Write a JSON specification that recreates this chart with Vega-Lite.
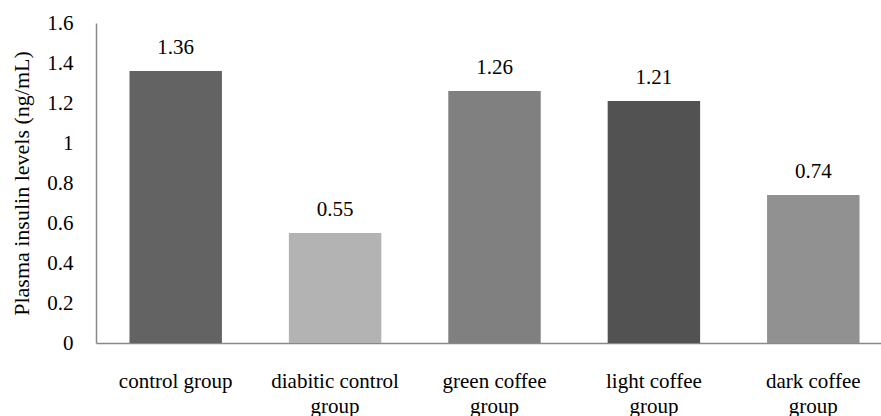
{
  "$schema": "https://vega.github.io/schema/vega-lite/v6.json",
  "autosize": {"type": "none"},
  "padding": {"left": 96, "top": 23, "right": 0, "bottom": 73},
  "width": 797,
  "height": 320,
  "background": "white",
  "data": {"values": [
    {"group": "control group", "insulin": 1.36, "shade": "a"},
    {"group": "diabitic control group", "insulin": 0.55, "shade": "b"},
    {"group": "green coffee group", "insulin": 1.26, "shade": "c"},
    {"group": "light coffee group", "insulin": 1.21, "shade": "d"},
    {"group": "dark coffee group", "insulin": 0.74, "shade": "e"}
  ]},
  "config": {
    "view": {"stroke": null},
    "font": "Liberation Serif",
    "axis": {"grid": false, "ticks": false, "domainColor": "#898989", "domainWidth": 1.5, "labelFont": "Liberation Serif", "titleFont": "Liberation Serif", "labelColor": "#000", "titleColor": "#000", "labelFontSize": 21, "titleFontSize": 22, "titleFontWeight": "normal"}
  },
  "encoding": {
    "x": {"field": "group", "type": "nominal", "sort": null,
      "scale": {"paddingInner": 0.42, "paddingOuter": 0.21},
      "axis": {"title": null, "labelAngle": 0, "labelPadding": 27, "labelLineHeight": 25, "labelBaseline": "top",
        "labelExpr": "datum.value == 'control group' ? datum.value : [replace(datum.value, ' group', ''), 'group']"}},
    "y": {"field": "insulin", "type": "quantitative",
      "scale": {"domain": [0, 1.6]},
      "axis": {"title": "Plasma insulin levels (ng/mL)", "format": "~g", "values": [0, 0.2, 0.4, 0.6, 0.8, 1, 1.2, 1.4, 1.6], "labelPadding": 23, "titlePadding": 13}}
  },
  "layer": [
    {"mark": {"type": "bar"},
      "encoding": {"color": {"field": "shade", "type": "nominal", "legend": null,
        "scale": {"domain": ["a", "b", "c", "d", "e"], "range": ["#636363", "#b3b3b3", "#808080", "#525252", "#919191"]}}}},
    {"mark": {"type": "text", "baseline": "bottom", "dy": -13, "fontSize": 21, "color": "#000"},
      "encoding": {"text": {"field": "insulin", "type": "quantitative", "format": ".2f"}}}
  ]
}
